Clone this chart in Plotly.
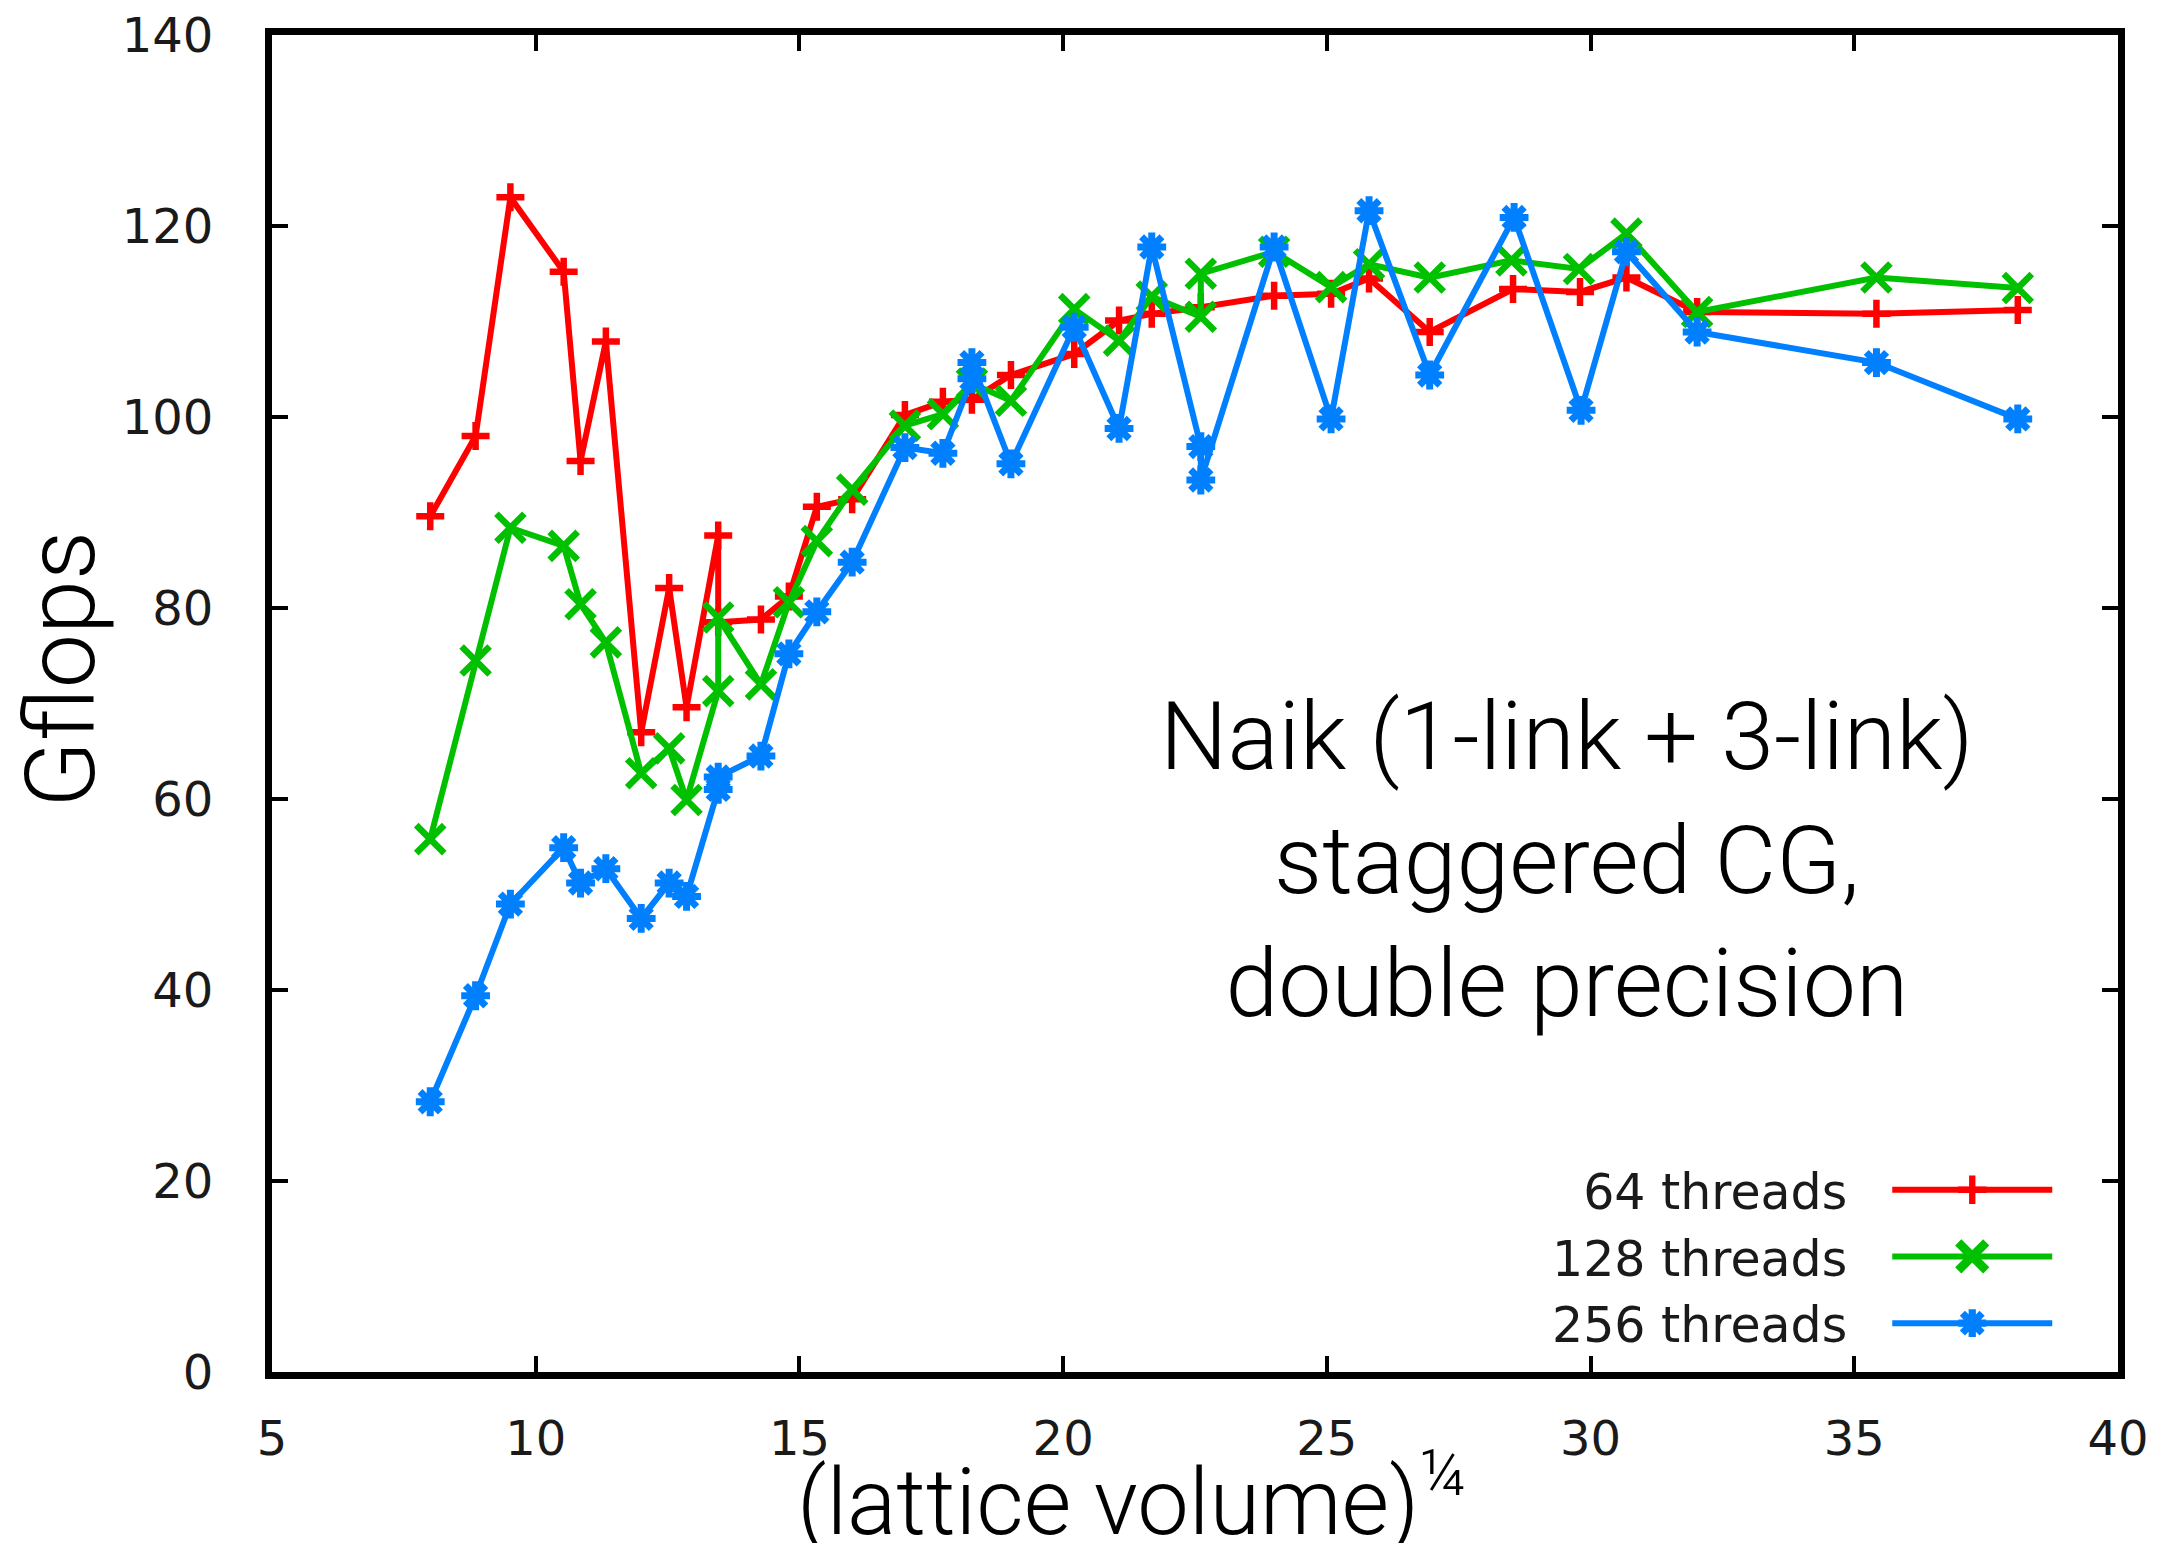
import plotly.graph_objects as go

# ---------------- data ----------------
x_64 = [8.0, 8.86, 9.52, 10.53, 10.85, 11.33, 12.0, 12.53, 12.86, 13.46, 13.46, 14.27,
        14.8, 15.33, 16.0, 17.0, 17.72, 18.27, 19.01, 20.21, 21.06, 21.68, 22.61, 24.0,
        25.08, 25.8, 26.95, 28.53, 29.8, 30.68, 32.02, 35.42, 38.1]
gflops_64 = [89.6, 98.0, 123.0, 115.2, 95.4, 107.9, 67.0, 82.1, 69.6, 87.6, 78.5, 78.8,
             81.2, 90.6, 91.4, 100.2, 101.6, 101.8, 104.4, 106.6, 110.1, 110.8, 111.5, 112.7,
             112.9, 114.5, 108.9, 113.4, 113.1, 114.6, 111.0, 110.8, 111.2]

x_128 = [8.0, 8.86, 9.52, 10.53, 10.85, 11.33, 12.0, 12.53, 12.86, 13.46, 13.46, 14.27,
         14.8, 15.33, 16.0, 17.0, 17.72, 18.27, 19.01, 20.21, 21.06, 21.68, 22.61, 22.61,
         24.0, 25.08, 25.8, 26.95, 28.5, 29.78, 30.68, 32.02, 35.42, 38.1]
gflops_128 = [55.8, 74.5, 88.4, 86.5, 80.4, 76.4, 62.7, 65.3, 59.9, 71.3, 79.0, 72.0,
              80.6, 87.0, 92.4, 99.1, 100.3, 103.5, 101.7, 111.3, 108.0, 112.6, 110.5, 115.0,
              117.3, 113.6, 116.0, 114.6, 116.4, 115.5, 119.2, 111.0, 114.6, 113.5]

x_256 = [8.0, 8.86, 9.52, 10.53, 10.85, 11.33, 12.0, 12.53, 12.86, 13.46, 13.46, 14.27,
         14.8, 15.33, 16.0, 17.0, 17.72, 18.27, 18.27, 19.01, 20.21, 21.06, 21.68, 22.61,
         22.61, 24.0, 25.08, 25.8, 26.95, 28.55, 29.82, 30.68, 32.02, 35.42, 38.1]
gflops_256 = [28.3, 39.4, 49.0, 54.9, 51.2, 52.7, 47.5, 51.2, 49.8, 61.0, 62.3, 64.5,
              75.2, 79.6, 84.8, 96.8, 96.2, 104.0, 105.7, 95.1, 109.4, 98.8, 117.8, 96.9,
              93.4, 117.8, 99.8, 121.6, 104.4, 120.9, 100.7, 117.3, 108.9, 105.7, 99.8]

series_names = ["64 threads", "128 threads", "256 threads"]
x_ticks = [5, 10, 15, 20, 25, 30, 35, 40]
y_ticks = [0, 20, 40, 60, 80, 100, 120, 140]

x_title = "(lattice volume)<sup>¼</sup>"
y_title = "Gflops"
note_text = "Naik (1-link + 3-link)<br>staggered CG,<br>double precision"

# ---------------- figure ----------------
W, H = 2165, 1543
L, R, T, B = 272, 47, 35, 171

colors = ["#FF0000", "#00C000", "#0080FF"]
symbols = ["cross-thin", "x-thin", "asterisk"]
sizes = [20, 28, 24]
mlw = [6.5, 6.5, 7]

fig = go.Figure()
for name, xs, ys, col, sym, sz, lw in zip(series_names, [x_64, x_128, x_256],
                                          [gflops_64, gflops_128, gflops_256],
                                          colors, symbols, sizes, mlw):
    fig.add_trace(go.Scatter(
        x=xs, y=ys, name=name, mode="lines+markers",
        line=dict(color=col, width=6),
        marker=dict(symbol=sym, size=sz, color=col, line=dict(color=col, width=lw)),
    ))

tick_font = dict(family="DejaVu Sans", size=48, color="#1a1a1a")
ytitle_font = dict(family="Roboto", size=97, color="black", weight=300)
xtitle_font = dict(family="Roboto", size=92, color="black", weight=300)

axis_common = dict(showgrid=False, zeroline=False, showline=True, linewidth=7,
                   linecolor="black", mirror="ticks", ticks="inside", ticklen=16,
                   tickwidth=4, tickcolor="black", tickfont=tick_font)

fig.update_layout(
    width=W, height=H,
    margin=dict(l=L, r=R, t=T, b=B, autoexpand=False),
    paper_bgcolor="white", plot_bgcolor="white",
    font=tick_font,
    xaxis=dict(range=[5, 40], tickvals=x_ticks, ticklabelstandoff=18, **axis_common),
    yaxis=dict(range=[0, 140], tickvals=y_ticks, ticklabelstandoff=42, **axis_common),
    showlegend=True,
    legend=dict(x=0.875, xanchor="left", y=0.165, yanchor="top",
                bgcolor="rgba(0,0,0,0)", borderwidth=0,
                font=dict(family="DejaVu Sans", size=49, color="#1a1a1a"),
                itemwidth=160, tracegroupgap=0),
    annotations=[
        dict(text=note_text, xref="paper", yref="paper", x=0.7015, y=0.383,
             xanchor="center", yanchor="middle", showarrow=False,
             font=dict(family="Roboto", size=95, color="black", weight=300)),
        dict(text=y_title, xref="paper", yref="paper", x=-0.1142, y=0.5256,
             xanchor="center", yanchor="middle", textangle=-90, showarrow=False,
             font=ytitle_font),
        dict(text=x_title, xref="paper", yref="paper", x=0.2835, y=-0.092,
             xanchor="left", yanchor="middle", showarrow=False, font=xtitle_font),
    ],
)

post = """
document.body.style.margin = '0';
document.body.style.overflow = 'hidden';
var gd = document.querySelector('.plotly-graph-div');
gd.querySelectorAll('.legend .scrollbox').forEach(function(s){ s.removeAttribute('clip-path'); });
gd.querySelectorAll('.legend .legendtext').forEach(function(t){
    t.setAttribute('text-anchor', 'end');
    t.setAttribute('x', '-40');
});
var scales = [1.27, 1.75, 1.45];
gd.querySelectorAll('.legend .traces').forEach(function(g, i){
    g.querySelectorAll('.legendpoints path.scatterpts').forEach(function(p){
        var tr = p.getAttribute('transform') || '';
        p.setAttribute('transform', tr + ' scale(' + scales[i % 3] + ')');
    });
});
"""

fig.write_html("out.html", post_script=post, config={"displayModeBar": False})
